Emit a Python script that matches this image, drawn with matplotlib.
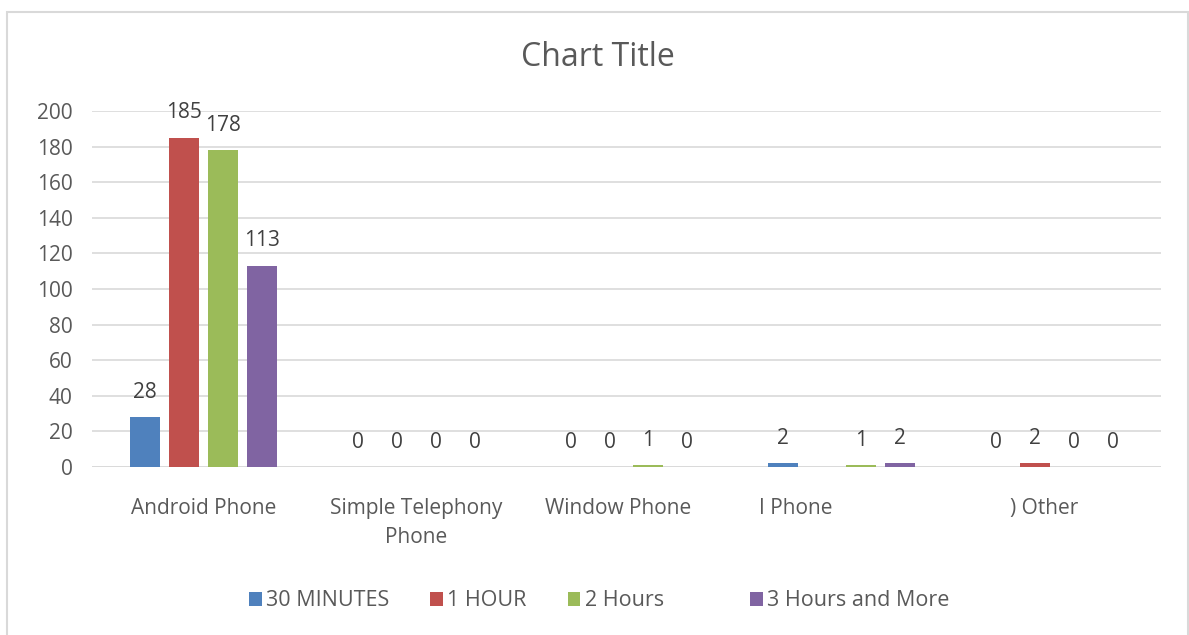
import numpy as np
import matplotlib
matplotlib.use("Agg")
import matplotlib.pyplot as plt
from matplotlib.patches import Rectangle

categories = ["Android Phone", "Simple Telephony\nPhone", "Window Phone    ",
              "I Phone                 ", ") Other    "]
series_names = ["30 MINUTES", "1 HOUR", "2 Hours", "3 Hours and More"]
min30 = [28, 0, 0, 2, 0]
hour1 = [185, 0, 0, np.nan, 2]
hours2 = [178, 0, 1, 1, 0]
hours3 = [113, 0, 0, 2, 0]
colors = ["#4f81bd", "#c0504d", "#9bbb59", "#8064a2"]
yticks = [0, 20, 40, 60, 80, 100, 120, 140, 160, 180, 200]

plt.rcParams['font.family'] = ['Open Sans', 'DejaVu Sans']
txt = "#595959"

W, H = 1189, 635
fig = plt.figure(figsize=(W/100, H/100), dpi=100)
fig.patches.append(Rectangle((7/W, -0.01), (1188-7)/W, (H-12)/H + 0.01, transform=fig.transFigure,
                             fill=False, edgecolor="#d9d9d9", linewidth=1.5))

ax = fig.add_axes([92/W, (H-467)/H, (1161-92)/W, (467-111)/H])
data = [min30, hour1, hours2, hours3]
x = np.arange(len(categories))
bw = 0.141
step = 0.183
for i, (vals, c, name) in enumerate(zip(data, colors, series_names)):
    pos = x + (i - 1.5) * step
    v = np.array(vals, dtype=float)
    ax.bar(pos, np.nan_to_num(v), width=bw, color=c, label=name, zorder=3)
    for p, val in zip(pos, v):
        if np.isnan(val):
            continue
        ax.annotate(f"{int(val)}", (p, val), xytext=(0, 18), textcoords="offset points",
                    ha="center", va="center", fontsize=15, color="#404040")

ax.set_xlim(-0.5 - 5/212.7, len(categories) - 0.5)
ax.set_ylim(0, 200)
ax.set_yticks(yticks)
ax.set_xticks(x)
ax.set_xticklabels(categories, fontsize=15, color=txt, linespacing=1.55)
ax.tick_params(axis='y', labelsize=15, labelcolor=txt, length=0, pad=14)
ax.tick_params(axis='x', length=0, pad=22)
ax.grid(axis='y', color="#d9d9d9", linewidth=1.2, zorder=0)
for s in ax.spines.values():
    s.set_visible(False)
ax.axhline(0, color="#d9d9d9", linewidth=1.2, zorder=2)

fig.text(598/W, 1 - 57/H, "Chart Title", ha="center", va="center", fontsize=23, color=txt)

handles, labels = ax.get_legend_handles_labels()
labels[2] = labels[2] + "        "
leg = fig.legend(handles, labels, loc="center", bbox_to_anchor=(599/W, 1 - 601/H), ncol=4,
                 frameon=False, fontsize=15.5, handlelength=0.6, handleheight=0.6,
                 handletextpad=0.2, columnspacing=1.9, labelcolor=txt)

fig.savefig("out.png", dpi=100)
